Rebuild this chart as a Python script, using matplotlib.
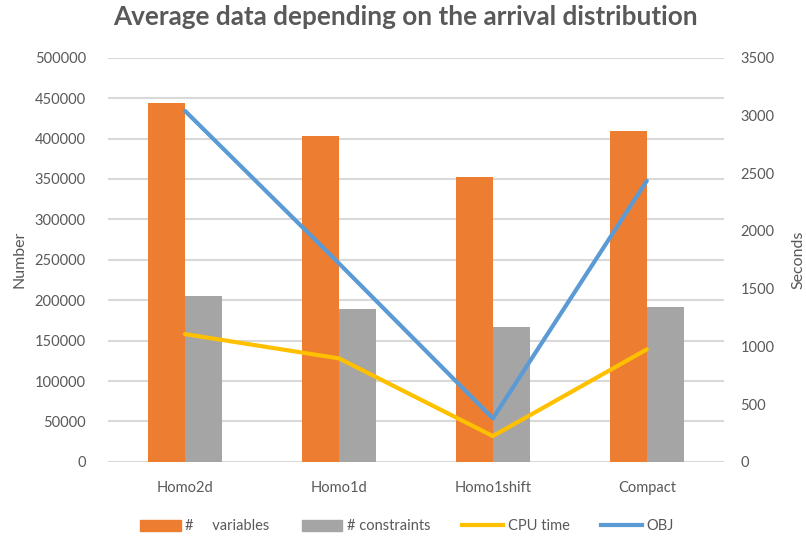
import matplotlib
matplotlib.use("Agg")
import matplotlib.pyplot as plt
import numpy as np
from matplotlib.patches import Patch
from matplotlib.lines import Line2D

plt.rcParams['font.family'] = ['Lato', 'DejaVu Sans']

categories = ["Homo2d", "Homo1d", "Homo1shift", "Compact"]
num_variables = [443500, 403000, 352000, 409000]
num_constraints = [205000, 189000, 167000, 192000]
cpu_time = [1106, 896, 223, 974]
obj = [3040, 1719, 376, 2434]

left_ticks = list(range(0, 500001, 50000))
right_ticks = list(range(0, 3501, 500))

orange = "#ED7D31"
gray = "#A5A5A5"
yellow = "#FFC000"
blue = "#5B9BD5"
text_col = "#595959"
grid_col = "#D9D9D9"

fig = plt.figure(figsize=(8.06, 5.37), dpi=100)
ax = fig.add_axes([0.134, 0.140, 0.764, 0.7525])
ax2 = ax.twinx()

x = np.arange(len(categories))
w = 0.24
ax.bar(x - w / 2, num_variables, width=w, color=orange, zorder=2)
ax.bar(x + w / 2, num_constraints, width=w, color=gray, zorder=2)

ax2.plot(x, cpu_time, color=yellow, lw=3.0, solid_capstyle='round', zorder=3)
ax2.plot(x, obj, color=blue, lw=3.0, solid_capstyle='round', zorder=3)

ax.set_xlim(-0.5, len(categories) - 0.5)
ax.set_ylim(0, 500000)
ax2.set_ylim(0, 3500)
ax.set_yticks(left_ticks)
ax.set_yticklabels([str(t) for t in left_ticks])
ax2.set_yticks(right_ticks)
ax2.set_yticklabels([str(t) for t in right_ticks])
ax.set_xticks(x)
ax.set_xticklabels(categories)

ax.yaxis.grid(True, color=grid_col, lw=1.5, zorder=0)
ax.set_axisbelow(True)
for a in (ax, ax2):
    for s in ("top", "left", "right", "bottom"):
        a.spines[s].set_visible(False)
ax.axhline(0, color=grid_col, lw=2, zorder=1)

ax.tick_params(axis='both', length=0, labelsize=10.5, labelcolor=text_col)
ax.tick_params(axis='y', pad=16)
ax.tick_params(axis='x', pad=14)
ax2.tick_params(axis='y', length=0, labelsize=10.5, labelcolor=text_col, pad=12)

ax.set_ylabel("Number", fontsize=11.5, color=text_col, labelpad=6)
ax2.set_ylabel("Seconds", fontsize=11.5, color=text_col, labelpad=12)

fig.suptitle("Average data depending on the arrival distribution", x=0.5025, y=0.99,
             fontsize=18.8, fontweight='bold', color=text_col)

handles = [Patch(color=orange), Patch(color=gray),
           Line2D([], [], color=yellow, lw=3.0), Line2D([], [], color=blue, lw=3.0)]
labels = ["#     variables", "# constraints", "CPU time", "OBJ"]
leg = fig.legend(handles, labels, loc='center', bbox_to_anchor=(0.505, 0.02), ncol=4,
                 frameon=False, fontsize=10.5, handlelength=2.8, handleheight=0.8,
                 columnspacing=2.2, handletextpad=0.3)
for t in leg.get_texts():
    t.set_color(text_col)

fig.savefig("out.png", dpi=100)
